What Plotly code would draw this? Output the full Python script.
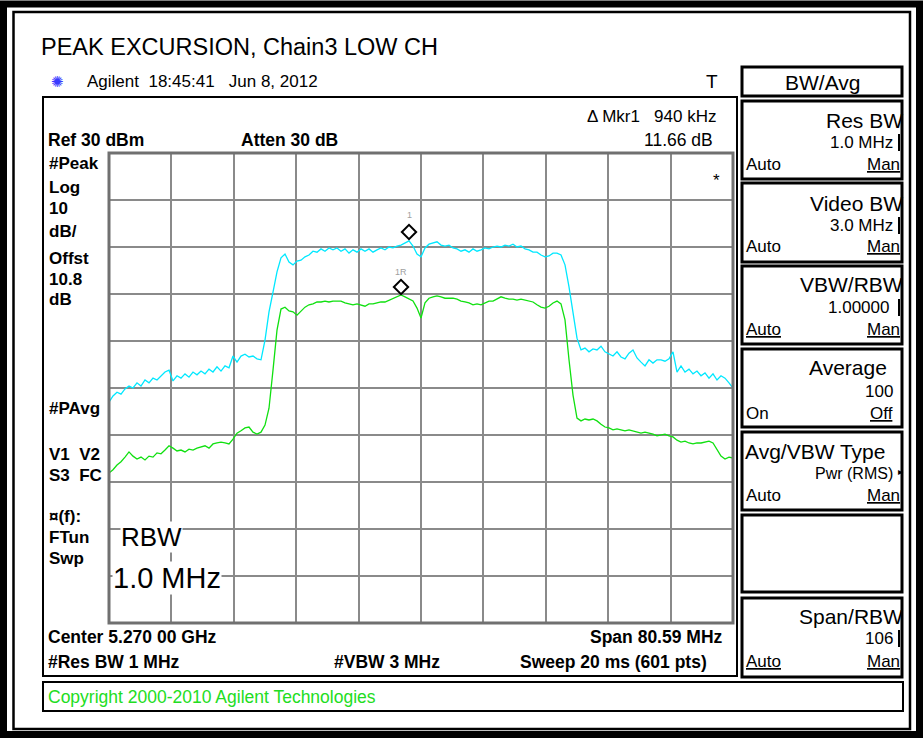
import numpy as np
import plotly.graph_objects as go

center_mhz = 5270.0
span_mhz = 80.59
ref_dbm = 30.0
db_per_div = 10.0
n_div = 10

# Trace 1 (cyan, peak) level in dBm, uniformly spaced across the span
cyan_dbm = [
    -23.0, -21.7, -20.9, -21.3, -20.2, -19.6, -20.0, -18.9, -19.6, -18.3,
    -18.9, -17.9, -18.3, -17.4, -16.6, -16.2, -18.5, -17.4, -17.9, -17.0,
    -17.7, -16.6, -17.2, -16.4, -17.0, -16.0, -16.6, -15.5, -16.4, -15.3,
    -15.7, -13.2, -14.5, -13.2, -12.8, -13.4, -13.2, -13.8, -14.0, -9.8,
    -3.8, 0.4, 4.7, 7.7, 8.5, 6.8, 6.2, 7.0, 7.2, 7.9,
    8.3, 9.1, 8.9, 9.6, 9.1, 9.8, 9.4, 9.8, 9.1, 9.6,
    8.7, 9.4, 8.9, 9.6, 9.1, 9.6, 8.9, 9.4, 9.8, 9.4,
    10.0, 9.8, 10.2, 10.4, 10.9, 11.3, 10.2, 8.5, 7.9, 9.8,
    10.6, 10.9, 11.1, 10.4, 10.2, 10.4, 9.8, 9.6, 9.1, 9.4,
    8.9, 9.6, 9.1, 9.4, 9.8, 9.6, 10.0, 10.2, 10.0, 10.4,
    10.2, 10.6, 10.0, 10.2, 9.6, 9.4, 8.9, 8.9, 8.3, 7.9,
    8.1, 8.7, 8.7, 8.3, 6.2, 1.5, -4.0, -9.4, -11.9, -11.5,
    -12.3, -11.7, -11.9, -11.1, -12.3, -12.8, -13.2, -12.3, -13.4, -13.8,
    -12.6, -11.9, -13.6, -14.5, -15.3, -14.0, -14.7, -14.0, -14.0, -14.3,
    -13.8, -12.3, -16.6, -15.3, -16.6, -16.0, -17.0, -16.4, -17.4, -16.8,
    -17.9, -17.0, -18.3, -17.4, -17.9, -18.9, -20.0,
]

# Trace 2 (green, average) level in dBm
green_dbm = [
    -38.1, -37.4, -36.4, -35.7, -34.7, -33.6, -34.5, -35.1, -34.7, -35.3,
    -34.5, -34.7, -33.8, -34.0, -33.2, -32.3, -32.8, -33.4, -33.2, -33.6,
    -33.0, -33.2, -32.8, -32.6, -32.3, -32.8, -31.9, -31.7, -31.5, -31.7,
    -31.9, -30.9, -29.6, -29.1, -28.5, -28.3, -29.4, -29.8, -29.4, -27.9,
    -24.3, -16.2, -7.7, -3.2, -2.8, -3.6, -3.8, -4.5, -3.6, -2.8,
    -2.3, -2.1, -1.7, -1.7, -1.5, -1.7, -1.5, -1.5, -1.5, -1.9,
    -2.1, -2.3, -2.1, -2.3, -2.6, -2.1, -2.1, -1.9, -1.7, -1.7,
    -1.3, -0.9, -0.6, -0.2, -0.6, -1.1, -1.5, -3.0, -5.1, -1.9,
    -0.9, -0.6, -0.4, -0.6, -0.9, -0.9, -0.9, -1.1, -1.5, -1.7,
    -1.9, -2.3, -2.1, -2.3, -1.9, -1.5, -1.5, -1.1, -0.6, -0.9,
    -1.1, -1.1, -1.3, -1.1, -1.3, -1.5, -1.7, -2.3, -2.8, -3.0,
    -2.6, -1.9, -1.5, -2.1, -5.5, -14.0, -21.5, -26.4, -27.0, -26.6,
    -26.8, -26.6, -27.0, -27.7, -28.3, -28.5, -28.9, -28.7, -28.9, -29.1,
    -28.9, -29.1, -29.4, -29.6, -29.4, -29.6, -29.8, -30.2, -30.0, -29.8,
    -30.2, -30.4, -31.1, -31.5, -31.3, -31.7, -31.9, -31.7, -31.7, -31.5,
    -31.3, -31.7, -33.2, -34.5, -35.1, -34.7, -34.9,
]

mkr1_idx = 75    # marker 1 on trace 1
mkr1r_idx = 73   # reference marker 1R on trace 2

f_start = center_mhz - span_mhz / 2
f_stop = center_mhz + span_mhz / 2
freq_mhz = np.linspace(f_start, f_stop, len(cyan_dbm))

# ---------------- layout geometry (pixels) ----------------
W, H = 923, 738
PL, PR, PT, PB = 109, 733, 153, 623
FONT = "Liberation Sans, Arial, sans-serif"


def px(x):
    return (x - PL) / (PR - PL)


def py(y):
    return (PB - y) / (PB - PT)


shapes = []


def rect(x0, y0, x1, y1, color="black", width=2, fill=None):
    shapes.append(dict(type="rect", xref="paper", yref="paper",
                       x0=px(x0), x1=px(x1), y0=py(y1), y1=py(y0),
                       line=dict(color=color, width=width),
                       fillcolor=fill if fill else "rgba(0,0,0,0)",
                       layer="above"))


def line(x0, y0, x1, y1, color="black", width=2):
    shapes.append(dict(type="line", xref="paper", yref="paper",
                       x0=px(x0), x1=px(x1), y0=py(y0), y1=py(y1),
                       line=dict(color=color, width=width), layer="above"))


annotations = []


def text(s, x, y, size=16, bold=False, anchor="left", color="black", bg=None):
    if bold:
        s = "<b>" + s + "</b>"
    a = dict(text=s, x=px(x), y=py(y), xref="paper", yref="paper",
             xanchor=anchor, yanchor="middle", showarrow=False,
             font=dict(family=FONT, size=size, color=color), borderpad=0)
    if bg:
        a["bgcolor"] = bg
    annotations.append(a)


# outer frame
rect(3.5, 4, 919.5, 734.5, width=7)
rect(13.5, 12, 910, 729, width=2.5)

# title & header
text("PEAK EXCURSION, Chain3 LOW CH", 40, 47, size=23.5)
text("✺", 50, 81, size=15, color="#3a3aff")
text("Agilent  18:45:41   Jun 8, 2012", 86, 81, size=17)
text("T", 705, 81, size=19)

# main instrument box
rect(43, 97, 737, 676, width=2)
text("Δ Mkr1   940 kHz", 717, 117, size=17, anchor="right")
text("11.66 dB", 714, 140, size=17.5, anchor="right")
text("Ref 30 dBm", 47, 140, size=17.5, bold=True)
text("Atten 30 dB", 240, 140, size=17.5, bold=True)

left_labels = [("#Peak", 163), ("Log", 187), ("10", 209), ("dB/", 231),
               ("Offst", 258), ("10.8", 279), ("dB", 299), ("#PAvg", 408),
               ("V1  V2", 455), ("S3  FC", 475), ("¤(f):", 516),
               ("FTun", 537), ("Swp", 558)]
for s, yy in left_labels:
    text(s, 48, yy, size=17, bold=True)

text("*", 712, 180, size=17)
text("RBW", 120, 537, size=26, bg="white")
text("1.0 MHz", 112, 578, size=29, bg="white")

text("Center 5.270 00 GHz", 47, 637, size=17.5, bold=True)
text("Span 80.59 MHz", 724, 637, size=17.5, bold=True, anchor="right")
text("#Res BW 1 MHz", 47, 662, size=17.5, bold=True)
text("#VBW 3 MHz", 333, 662, size=17.5, bold=True)
text("Sweep 20 ms (601 pts)", 708, 662, size=17.5, bold=True, anchor="right")

# copyright box
rect(43, 682, 903, 711, width=2)
text("Copyright 2000-2010 Agilent Technologies", 47, 697, size=17.5, color="#22dd22")

# right-hand soft key panel
rect(742, 67, 902, 96, width=3)
text("BW/Avg", 822, 82, size=21, anchor="center")

boxes = [(101, 179), (183, 262), (266, 344), (349, 427), (432, 510), (515, 592), (598, 677)]
for y0, y1 in boxes:
    rect(742, y0, 902, y1, width=3)

KT = 21   # soft-key title size
KV = 17   # soft-key value size

text("Res BW", 904, 120, size=KT, anchor="right")
text("1.0 MHz", 894, 142, size=KV, anchor="right")
line(899, 134, 899, 151, width=2)
text("Auto", 745, 164, size=KV)
text("<u>Man</u>", 901, 164, size=KV, anchor="right")

text("Video BW", 904, 203, size=KT, anchor="right")
text("3.0 MHz", 894, 225, size=KV, anchor="right")
line(899, 217, 899, 234, width=2)
text("Auto", 745, 246, size=KV)
text("<u>Man</u>", 901, 246, size=KV, anchor="right")

text("VBW/RBW", 904, 284, size=KT, anchor="right")
text("1.00000", 890, 307, size=KV, anchor="right")
line(899, 299, 899, 316, width=2)
text("<u>Auto</u>", 745, 329, size=KV)
text("<u>Man</u>", 901, 329, size=KV, anchor="right")

text("Average", 888, 367, size=KT, anchor="right")
text("100", 894, 391, size=KV, anchor="right")
text("On", 745, 413, size=KV)
text("<u>Off</u>", 894, 413, size=KV, anchor="right")

text("Avg/VBW Type", 744, 451, size=KT)
text("Pwr (RMS)", 894, 473, size=KV - 1, anchor="right")
text("▸", 897, 471, size=10)
text("Auto", 745, 495, size=KV)
text("<u>Man</u>", 901, 495, size=KV, anchor="right")

text("Span/RBW", 904, 616, size=KT, anchor="right")
text("106", 894, 638, size=KV, anchor="right")
line(899, 630, 899, 647, width=2)
text("<u>Auto</u>", 745, 661, size=KV)
text("<u>Man</u>", 901, 661, size=KV, anchor="right")

# ---------------- figure ----------------
fig = go.Figure()
fig.add_trace(go.Scatter(x=freq_mhz, y=green_dbm, mode="lines",
                         line=dict(color="#10e010", width=1.3), hoverinfo="skip"))
fig.add_trace(go.Scatter(x=freq_mhz, y=cyan_dbm, mode="lines",
                         line=dict(color="#00e8ff", width=1.3), hoverinfo="skip"))

# marker diamonds sit just above the trace point
mk_x = [freq_mhz[mkr1_idx], freq_mhz[mkr1r_idx]]
mk_y = [cyan_dbm[mkr1_idx] + 1.9, green_dbm[mkr1r_idx] + 1.7]
fig.add_trace(go.Scatter(x=mk_x, y=mk_y, mode="markers",
                         marker=dict(symbol="diamond-open", size=11, color="black",
                                     line=dict(width=2, color="black")),
                         hoverinfo="skip"))
annotations.append(dict(text="1", x=freq_mhz[mkr1_idx], y=cyan_dbm[mkr1_idx],
                        xref="x", yref="y", yshift=26, showarrow=False,
                        font=dict(family=FONT, size=9, color="#a0a0a0")))
annotations.append(dict(text="1R", x=freq_mhz[mkr1r_idx], y=green_dbm[mkr1r_idx],
                        xref="x", yref="y", yshift=23, showarrow=False,
                        font=dict(family=FONT, size=9, color="#a0a0a0")))

# graticule border
rect(PL, PT, PR, PB, color="#707070", width=3)

fig.update_layout(
    width=W, height=H,
    margin=dict(l=PL, r=W - PR, t=PT, b=H - PB, pad=0),
    paper_bgcolor="white", plot_bgcolor="white",
    showlegend=False,
    shapes=shapes, annotations=annotations,
    xaxis=dict(range=[f_start, f_stop], tick0=f_start, dtick=span_mhz / n_div,
               showgrid=True, gridcolor="#8a8a8a", gridwidth=2,
               showticklabels=False, ticks="", zeroline=False, fixedrange=True),
    yaxis=dict(range=[ref_dbm - n_div * db_per_div, ref_dbm], tick0=ref_dbm, dtick=db_per_div,
               showgrid=True, gridcolor="#8a8a8a", gridwidth=2,
               showticklabels=False, ticks="", zeroline=False, fixedrange=True),
)

fig.write_html("out.html", config={"staticPlot": True},
               post_script="document.body.style.margin='0px';document.body.style.overflow='hidden';")
